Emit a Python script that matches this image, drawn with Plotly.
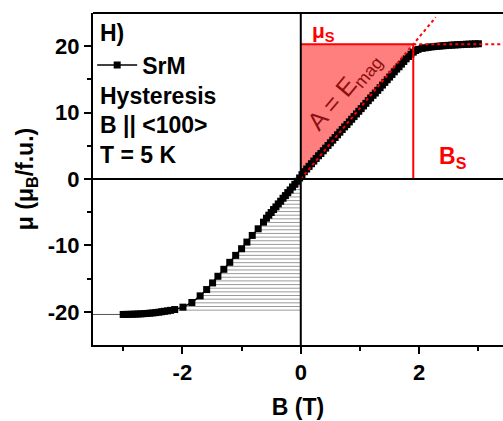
import numpy as np
import plotly.graph_objects as go

# ---------------- data ----------------
B_field = [
    -3.00, -2.95, -2.90, -2.85, -2.80, -2.75, -2.70, -2.65, -2.60, -2.55,
    -2.50, -2.45, -2.40, -2.35, -2.30, -2.25, -2.20, -2.13, -1.99, -1.84,
    -1.70, -1.59, -1.49, -1.40, -1.30, -1.20, -1.10, -1.00, -0.91, -0.82,
    -0.72, -0.63, -0.58, -0.54, -0.50, -0.46, -0.42, -0.38, -0.34, -0.30,
    -0.26, -0.22, -0.18, -0.14, -0.10, -0.06, -0.02,
    0.02, 0.06, 0.10, 0.14, 0.18, 0.22, 0.26, 0.30, 0.34, 0.38,
    0.42, 0.46, 0.50, 0.54, 0.58, 0.62, 0.66, 0.70, 0.74, 0.78,
    0.82, 0.86, 0.90, 0.94, 0.98, 1.02, 1.06, 1.10, 1.14, 1.18,
    1.22, 1.26, 1.30, 1.34, 1.38, 1.42, 1.46, 1.50, 1.54, 1.58,
    1.62, 1.66, 1.70, 1.74, 1.78, 1.82, 1.86, 1.90, 1.94, 1.98,
    2.05, 2.10, 2.15, 2.20, 2.25, 2.30, 2.35, 2.40, 2.45, 2.50,
    2.55, 2.60, 2.65, 2.70, 2.75, 2.80, 2.85, 2.90, 2.95, 3.00,
]
moment = [
    -20.40, -20.39, -20.38, -20.37, -20.35, -20.33, -20.31, -20.28, -20.25, -20.21,
    -20.17, -20.12, -20.06, -19.99, -19.92, -19.86, -19.78, -19.66, -19.30, -18.60,
    -17.60, -16.65, -15.65, -14.65, -13.60, -12.55, -11.50, -10.50, -9.50, -8.50,
    -7.50, -6.50, -5.90, -5.45, -5.05, -4.60, -4.20, -3.75, -3.35, -2.90,
    -2.50, -2.05, -1.65, -1.20, -0.80, -0.35, 0.15,
    0.65, 1.10, 1.50, 1.90, 2.30, 2.70, 3.10, 3.50, 3.85, 4.25,
    4.65, 5.05, 5.45, 5.85, 6.25, 6.65, 7.05, 7.45, 7.85, 8.20,
    8.60, 9.00, 9.40, 9.80, 10.20, 10.60, 11.00, 11.40, 11.80, 12.20,
    12.60, 12.95, 13.35, 13.75, 14.15, 14.55, 14.95, 15.35, 15.75, 16.15,
    16.55, 16.90, 17.30, 17.70, 18.10, 18.45, 18.80, 19.10, 19.35, 19.52,
    19.68, 19.76, 19.83, 19.89, 19.94, 19.98, 20.02, 20.06, 20.10, 20.13,
    20.16, 20.19, 20.22, 20.24, 20.27, 20.29, 20.31, 20.33, 20.35, 20.37,
]

MU_S = 20.3          # saturation moment (uB/f.u.)
B_S = 1.9            # saturation field (T)
EXTRAP_END_B = 2.28  # end of the dotted linear extrapolation (T)

x_ticks = [-2, 0, 2]
x_tick_text = ["-2", "0", "2"]
y_ticks = [-20, -10, 0, 10, 20]
y_tick_text = ["-20", "-10", "0", "10", "20"]

X_MIN, X_MAX = -3.51, 3.416
Y_MIN, Y_MAX = -25, 25

RED = "#FF0000"
FONT = "Liberation Sans, Arial, sans-serif"

# ---------------- figure ----------------
fig = go.Figure()

# gray hatching between the negative branch and B = 0
xb = np.array(B_field)
yb = np.array(moment)
neg = xb <= 0
hx, hy = [], []
for lvl in np.arange(-0.5, -20.3, -0.55):
    xc = np.interp(lvl, yb[neg], xb[neg])
    hx += [xc, 0, None]
    hy += [lvl, lvl, None]
fig.add_trace(go.Scatter(x=hx, y=hy, mode="lines",
                         line=dict(color="#9a9a9a", width=1),
                         hoverinfo="skip", showlegend=False))

# red filled area A = E_mag
slope = MU_S / B_S
fig.add_trace(go.Scatter(x=[0, B_S, 0, 0], y=[0, MU_S, MU_S, 0],
                         mode="lines", fill="toself",
                         fillcolor="rgba(255,0,0,0.5)",
                         line=dict(width=0), hoverinfo="skip",
                         showlegend=False))

# gray lead-in line from the left axis
fig.add_trace(go.Scatter(x=[X_MIN, B_field[0]], y=[moment[0], moment[0]],
                         mode="lines", line=dict(color="#555555", width=1),
                         hoverinfo="skip", showlegend=False))

# data
fig.add_trace(go.Scatter(x=B_field, y=moment, mode="lines+markers",
                         name="SrM",
                         line=dict(color="black", width=1.5),
                         marker=dict(symbol="square", size=7, color="black",
                                     line=dict(width=0)),
                         showlegend=True))

# red construction lines
fig.add_trace(go.Scatter(x=[0, B_S], y=[MU_S, MU_S], mode="lines",
                         line=dict(color=RED, width=2),
                         hoverinfo="skip", showlegend=False))
fig.add_trace(go.Scatter(x=[B_S, X_MAX], y=[MU_S, MU_S], mode="lines",
                         line=dict(color=RED, width=2, dash="dot"),
                         hoverinfo="skip", showlegend=False))
fig.add_trace(go.Scatter(x=[B_S, B_S], y=[0, MU_S], mode="lines",
                         line=dict(color=RED, width=2),
                         hoverinfo="skip", showlegend=False))
fig.add_trace(go.Scatter(x=[0, EXTRAP_END_B], y=[0, slope * EXTRAP_END_B],
                         mode="lines",
                         line=dict(color=RED, width=2, dash="dot"),
                         hoverinfo="skip", showlegend=False))

# frame / zero lines
fig.add_shape(type="line", xref="paper", yref="paper", x0=0, x1=1, y0=1, y1=1,
              line=dict(color="black", width=2))
fig.add_shape(type="line", xref="x", yref="paper", x0=0, x1=0, y0=0, y1=1,
              line=dict(color="black", width=2), layer="above")
fig.add_shape(type="line", xref="paper", yref="y", x0=0, x1=1, y0=0, y1=0,
              line=dict(color="black", width=2), layer="above")

bold = dict(family=FONT, size=22, color="black", weight="bold")
bold_big = dict(family=FONT, size=23, color="black", weight="bold")

def paper_note(text, y):
    fig.add_annotation(text=text, xref="paper", yref="paper", x=0.012, y=y,
                       xanchor="left", yanchor="middle", showarrow=False,
                       font=bold_big)

paper_note("H)", 0.94)
paper_note("Hysteresis", 0.75)
paper_note("B || &lt;100&gt;", 0.663)
paper_note("T = 5 K", 0.572)

fig.add_annotation(text="μ<sub>S</sub>", x=0.15, y=22.1, xref="x", yref="y",
                   xanchor="left", yanchor="middle", showarrow=False,
                   font=dict(family=FONT, size=21, color=RED, weight="bold"))
fig.add_annotation(text="B<sub>S</sub>", x=2.3, y=3.3, xref="x", yref="y",
                   xanchor="left", yanchor="middle", showarrow=False,
                   font=dict(family=FONT, size=23, color=RED, weight="bold"))
fig.add_annotation(text="A = E<sub>mag</sub>", x=0.74, y=13.2, xref="x", yref="y",
                   showarrow=False, textangle=-50,
                   font=dict(family=FONT, size=25, color="#8B1010"))

fig.update_layout(
    width=503, height=421,
    margin=dict(l=93, r=0, t=13, b=76, pad=0),
    paper_bgcolor="white", plot_bgcolor="white",
    font=dict(family=FONT, color="black"),
    showlegend=True,
    legend=dict(x=-0.002, y=0.843, xanchor="left", yanchor="middle",
                bgcolor="rgba(0,0,0,0)", borderwidth=0,
                font=bold_big, itemwidth=40),
    xaxis=dict(range=[X_MIN, X_MAX], showgrid=False, zeroline=False,
               showline=True, linecolor="black", linewidth=2,
               ticks="outside", ticklen=7, tickwidth=2, tickcolor="black",
               tickvals=x_ticks, ticktext=x_tick_text,
               minor=dict(tickvals=[-3, -1, 1, 3], ticks="outside",
                          ticklen=4, tickwidth=2, tickcolor="black"),
               tickfont=bold,
               title=dict(text="B (T)", font=bold_big, standoff=14)),
    yaxis=dict(range=[Y_MIN, Y_MAX], showgrid=False, zeroline=False,
               showline=True, linecolor="black", linewidth=2,
               ticks="outside", ticklen=7, tickwidth=2, tickcolor="black",
               tickvals=y_ticks, ticktext=y_tick_text,
               minor=dict(tickvals=[-15, -5, 5, 15], ticks="outside",
                          ticklen=4, tickwidth=2, tickcolor="black"),
               tickfont=bold,
               title=dict(text="μ (μ<sub>B</sub>/f.u.)", font=bold_big, standoff=8)),
)

fig.write_html("out.html")
